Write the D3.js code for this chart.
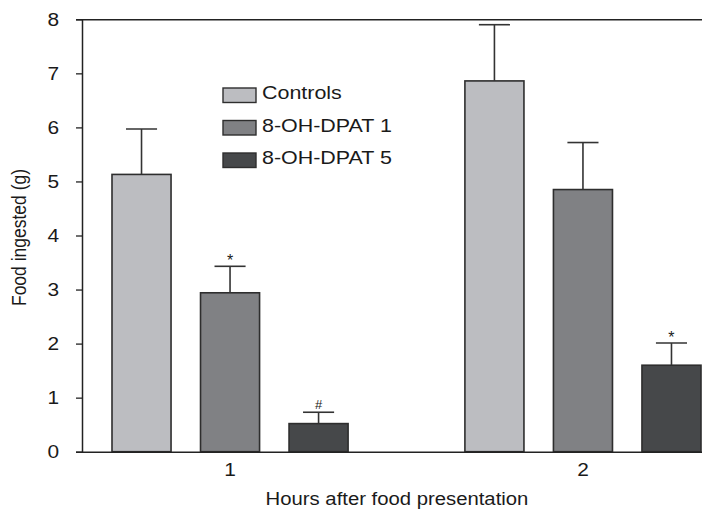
<!DOCTYPE html>
<html>
<head>
<meta charset="utf-8">
<script src="https://cdn.jsdelivr.net/npm/d3@7"></script>
<style>
  body { margin: 0; background: #fff; }
  text { font-family: "Liberation Sans", Arial, sans-serif; fill: #1a1a1a; }
</style>
</head>
<body>
<div id="chart"></div>
<script>
// data
var hours = ["1", "2"];
var groups = ["Controls", "8-OH-DPAT 1", "8-OH-DPAT 5"];
var means = {
  "Controls":    [5.13, 6.86],
  "8-OH-DPAT 1": [2.94, 4.85],
  "8-OH-DPAT 5": [0.52, 1.60]
};
var sems = {
  "Controls":    [0.84, 1.04],
  "8-OH-DPAT 1": [0.49, 0.87],
  "8-OH-DPAT 5": [0.21, 0.41]
};
var marks = [ // significance signs over error bars
  { hour: "1", group: "8-OH-DPAT 1", sign: "*" },
  { hour: "1", group: "8-OH-DPAT 5", sign: "#" },
  { hour: "2", group: "8-OH-DPAT 5", sign: "*" }
];
var yTicks = [0, 1, 2, 3, 4, 5, 6, 7, 8];
var fills = ["#bcbdc1", "#808184", "#46484a"];

var W = 702, H = 510;
var margin = { top: 19.3, right: -29, bottom: 58.3, left: 82 };
var stretch = 1.16; // the original figure's text is a bit wide

var svg = d3.select("#chart").append("svg")
  .attr("width", W).attr("height", H);

var x0 = d3.scaleBand()
  .domain(hours)
  .range([margin.left, W - margin.right])
  .paddingInner(0.331)
  .paddingOuter(0.085);
var x1 = d3.scaleBand()
  .domain(groups)
  .range([0, x0.bandwidth()])
  .paddingInner(0.333);
var y = d3.scaleLinear()
  .domain([0, 8])
  .range([H - margin.bottom, margin.top]);
var color = d3.scaleOrdinal().domain(groups).range(fills);

function widen(sel) {
  sel.each(function () {
    var t = d3.select(this);
    var tx = +t.attr("x") || 0;
    t.attr("transform", "translate(" + tx + ",0) scale(" + stretch + ",1) translate(" + (-tx) + ",0)");
  });
}

// rows of bars
var rows = [];
hours.forEach(function (h, i) {
  groups.forEach(function (g) {
    rows.push({ hour: h, group: g, mean: means[g][i], sem: sems[g][i] });
  });
});

var bars = svg.append("g");
bars.selectAll("rect")
  .data(rows)
  .join("rect")
  .attr("x", function (d) { return x0(d.hour) + x1(d.group); })
  .attr("y", function (d) { return y(d.mean); })
  .attr("width", x1.bandwidth())
  .attr("height", function (d) { return y(0) - y(d.mean); })
  .attr("fill", function (d) { return color(d.group); })
  .attr("stroke", "#2e2e2e")
  .attr("stroke-width", 1.6);

// error bars (upper half only)
var capHalf = x1.bandwidth() / 3.8;
var err = svg.append("g").attr("stroke", "#333").attr("stroke-width", 1.6);
rows.forEach(function (d) {
  var cx = x0(d.hour) + x1(d.group) + x1.bandwidth() / 2;
  err.append("line")
    .attr("x1", cx).attr("x2", cx)
    .attr("y1", y(d.mean)).attr("y2", y(d.mean + d.sem));
  err.append("line")
    .attr("x1", cx - capHalf).attr("x2", cx + capHalf)
    .attr("y1", y(d.mean + d.sem)).attr("y2", y(d.mean + d.sem));
});

// significance signs
svg.append("g").selectAll("text")
  .data(marks)
  .join("text")
  .attr("x", function (d) { return x0(d.hour) + x1(d.group) + x1.bandwidth() / 2; })
  .attr("y", function (d) {
    var i = hours.indexOf(d.hour);
    return y(means[d.group][i] + sems[d.group][i]) - (d.sign === "*" ? 0 : 3);
  })
  .attr("text-anchor", "middle")
  .style("font-size", function (d) { return d.sign === "*" ? "16px" : "13px"; })
  .text(function (d) { return d.sign; });

// axes
var yAxis = svg.append("g")
  .attr("transform", "translate(" + margin.left + ",0)")
  .call(d3.axisLeft(y).tickValues(yTicks).tickSize(6).tickPadding(17));
yAxis.selectAll("text").style("font-size", "18px").attr("fill", "#1a1a1a").call(widen);

var xAxis = svg.append("g")
  .attr("transform", "translate(0," + y(0) + ")")
  .call(d3.axisBottom(x0).tickSize(0).tickPadding(12));
xAxis.selectAll("text").style("font-size", "18px").attr("fill", "#1a1a1a").call(widen);

// top frame line
svg.append("g")
  .attr("transform", "translate(0," + y(8) + ")")
  .call(d3.axisTop(x0).tickSize(0).tickFormat(""));

svg.selectAll(".domain").attr("stroke", "#222").attr("stroke-width", 1.5);
svg.selectAll(".tick line").attr("stroke", "#222").attr("stroke-width", 1.3);

// axis titles
svg.append("text")
  .attr("x", 397).attr("y", 505)
  .attr("text-anchor", "middle")
  .style("font-size", "17.5px")
  .text("Hours after food presentation")
  .call(widen);

svg.append("text")
  .attr("transform", "translate(26," + ((y(0) + y(8)) / 2 + 2) + ") scale(" + stretch + ",1) rotate(-90)")
  .attr("text-anchor", "middle")
  .style("font-size", "17.5px")
  .text("Food ingested (g)");

// legend
var legend = svg.append("g").attr("transform", "translate(223,88)");
var item = legend.selectAll("g")
  .data(groups)
  .join("g")
  .attr("transform", function (d, i) { return "translate(0," + (i * 32.5) + ")"; });
item.append("rect")
  .attr("width", 33).attr("height", 14.5)
  .attr("fill", function (d) { return color(d); })
  .attr("stroke", "#2e2e2e").attr("stroke-width", 1.4);
item.append("text")
  .attr("x", 39).attr("y", 11)
  .style("font-size", "18.5px")
  .text(function (d) { return d; })
  .call(widen);
</script>
</body>
</html>
